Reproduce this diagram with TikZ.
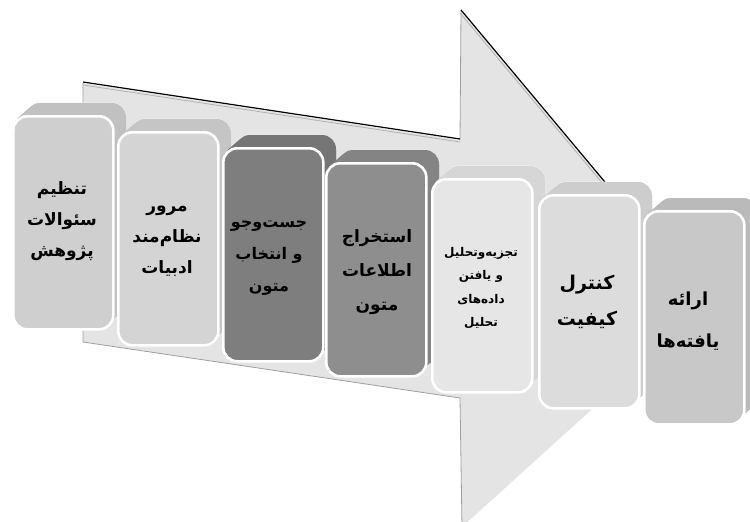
\documentclass[tikz,border=0pt]{standalone}
\usepackage{fontspec}
\TeXXeTstate=1
\newfontfamily\fafont[Script=Arabic]{DejaVu Sans}
\newcommand{\rl}[1]{\beginR #1\endR}
\definecolor{arrowgray}{HTML}{E4E4E4}
\definecolor{cA}{HTML}{CFCFCF}
\definecolor{cB}{HTML}{D4D4D4}
\definecolor{cC}{HTML}{7E7E7E}
\definecolor{cD}{HTML}{8E8E8E}
\definecolor{cE}{HTML}{E6E6E6}
\definecolor{cF}{HTML}{DCDCDC}
\definecolor{cG}{HTML}{C8C8C8}
\begin{document}
\begin{tikzpicture}[x=1pt,y=-1pt,
  frontbox/.style={rounded corners=14pt, draw=white, line width=2.6pt, minimum width=100pt, minimum height=213pt, anchor=north west, inner sep=0pt},
  steplabel/.style={align=center, text=black, inner sep=0pt}]
\useasboundingbox (0,0) rectangle (750,522);
% big arrow
\fill[arrowgray] (83,83) -- (460,140) -- (461,11) -- (707,305) -- (462,527) -- (460,398) -- (83,342) -- cycle;
\draw[gray!75, line width=0.8pt] (83,83) -- (83,342) -- (460,398) -- (462,527);
\draw[gray!75, line width=0.8pt] (460,140) -- (461,11);
\draw[gray!60, line width=0.8pt] (83,85) -- (460,142);
\draw[gray!60, line width=0.8pt] (460,13) -- (706,307);
\draw[black, line width=1.2pt] (83,82) -- (460,139);
\draw[black, line width=1.2pt] (461,10) -- (707,304);
% boxes
\foreach \bx/\by/\bc/\bn in {12/115/cA/b1, 117/131/cB/b2, 222/147/cC/b3, 325/162/cD/b4, 431/178/cE/b5, 538/194/cF/b6, 643/210/cG/b7}{
  \fill[\bc!93!black, rounded corners=14pt, shift={(14,-12)}] (\bx,\by) rectangle ++(100,213);
  \draw[white!85!\bc, line width=0.8pt, rounded corners=14pt, shift={(14,-12)}] (\bx,\by) rectangle ++(100,213);
  \foreach \k in {7,6,...,1}{
    \fill[\bc!93!black, rounded corners=14pt, shift={(2*\k,-1.714*\k)}] (\bx,\by) rectangle ++(100,213);
  }
  \node[frontbox, fill=\bc] (\bn) at (\bx,\by) {};
}
% labels
\node[steplabel, font=\fafont\bfseries\fontsize{17}{31}\selectfont] (t1) at (62,221) {\rl{تنظیم}\\\rl{سئوالات}\\\rl{پژوهش}};
\node[steplabel, font=\fafont\bfseries\fontsize{17}{31}\selectfont] (t2) at (167,241) {\rl{مرور}\\\rl{نظام‌مند}\\\rl{ادبیات}};
\node[steplabel, font=\fafont\bfseries\fontsize{16}{32}\selectfont] (t3) at (269,258) {\rl{جست‌وجو}\\\rl{و انتخاب}\\\rl{متون}};
\node[steplabel, font=\fafont\bfseries\fontsize{17}{34}\selectfont] (t4) at (377,272) {\rl{استخراج}\\\rl{اطلاعات}\\\rl{متون}};
\node[steplabel, font=\fafont\bfseries\fontsize{12}{23.5}\selectfont] (t5) at (481,288) {\rl{تجزیه‌وتحلیل}\\\rl{و یافتن}\\\rl{داده‌های}\\\rl{تحلیل}};
\node[steplabel, font=\fafont\bfseries\fontsize{19}{36}\selectfont] (t6) at (587,302) {\rl{کنترل}\\\rl{کیفیت}};
\node[steplabel, font=\fafont\bfseries\fontsize{18}{42}\selectfont] (t7) at (688,321) {\rl{ارائه}\\\rl{یافته‌ها}};
\end{tikzpicture}
\end{document}
